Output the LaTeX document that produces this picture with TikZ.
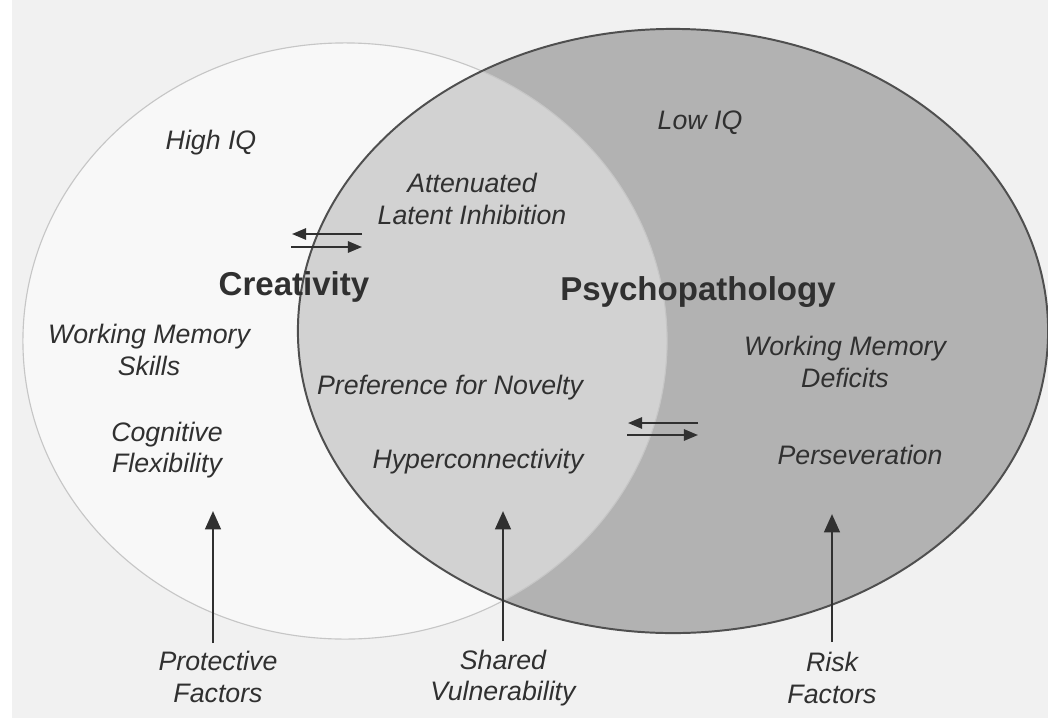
\documentclass[tikz,border=0pt]{standalone}
\usepackage{fontspec}
\setmainfont{Liberation Sans}
\usetikzlibrary{arrows.meta}
\definecolor{paper}{HTML}{F1F1F1}
\definecolor{creafill}{HTML}{F8F8F8}
\definecolor{sharedfill}{HTML}{D2D2D2}
\definecolor{psyfill}{HTML}{B2B2B2}
\definecolor{ink}{HTML}{303030}

\begin{document}
\begin{tikzpicture}[x=0.025cm,y=-0.025cm,
    item/.style={text=ink,font=\fontsize{19}{22.5}\selectfont\itshape,align=center,inner sep=0pt},
    title/.style={text=ink,font=\fontsize{23.5}{27}\selectfont\bfseries,inner sep=0pt},
    uparrow/.style={draw=ink,line width=2pt,-{Triangle[length=13pt,width=11pt]}},
    swaparrow/.style={draw=ink,line width=1.5pt,-{Triangle[length=10pt,width=8pt]}}]
    \useasboundingbox (0,0) rectangle (1048,718);
    \fill [paper] (0,0) rectangle (1048,718);
    \fill [white] (0,0) rectangle (12,718);

    % the two sets
    \begin{scope}
        \clip (0,0) rectangle (1048,718);
        \fill [creafill] (345,341) ellipse [x radius=8.05cm, y radius=7.45cm];
        \fill [psyfill] (673,331) ellipse [x radius=9.375cm, y radius=7.55cm];
        \begin{scope}
            \clip (673,331) ellipse [x radius=9.375cm, y radius=7.55cm];
            \fill [sharedfill] (345,341) ellipse [x radius=8.05cm, y radius=7.45cm];
        \end{scope}
        \draw [gray!45, line width=0.8pt] (345,341) ellipse [x radius=8.05cm, y radius=7.45cm];
        \draw [ink!85, line width=1.4pt] (673,331) ellipse [x radius=9.375cm, y radius=7.55cm];
    \end{scope}

    \path (211,143) node [item] (highiq) {High IQ};
    \path (700,123) node [item] (lowiq) {Low IQ};
    \path (472,199) node [item] (latent) {Attenuated\\Latent Inhibition};
    \path (294,287) node [title] (crea) {Creativity};
    \path (698,292) node [title] (psy) {Psychopathology};
    \path (149,350) node [item] (wmskills) {Working Memory\\Skills};
    \path (450,388) node [item] (novelty) {Preference for Novelty};
    \path (845,362) node [item] (wmdeficits) {Working Memory\\Deficits};
    \path (167,450) node [item] (cogflex) {Cognitive\\Flexibility};
    \path (478,462) node [item] (hyper) {Hyperconnectivity};
    \path (860,455) node [item] (persev) {Perseveration};

    \path (218,677) node [item] (protective) {Protective\\Factors};
    \path (503,678) node [item] (sharedvuln) {Shared\\Vulnerability};
    \path (832,678) node [item] (risk) {Risk\\Factors};

    % arrows from the factors
    \coordinate (protip) at (213,511);
    \coordinate (shatip) at (503,511);
    \coordinate (risktip) at (832,514);
    \draw [uparrow] (protective.north -| protip) ++(0,-8) -- (protip);
    \draw [uparrow] (sharedvuln.north -| shatip) ++(0,-8) -- (shatip);
    \draw [uparrow] (risk.north -| risktip) ++(0,-10) -- (risktip);

    % exchange arrows
    \coordinate (xa1) at (292,234);
    \coordinate (xb1) at (362,234);
    \coordinate (xa2) at (291,247);
    \coordinate (xb2) at (362,247);
    \draw [swaparrow] (xb1) -- (xa1);
    \draw [swaparrow] (xa2) -- (xb2);
    \coordinate (ya1) at (628,423);
    \coordinate (yb1) at (698,423);
    \coordinate (ya2) at (627,435);
    \coordinate (yb2) at (698,435);
    \draw [swaparrow] (yb1) -- (ya1);
    \draw [swaparrow] (ya2) -- (yb2);
\end{tikzpicture}
\end{document}
